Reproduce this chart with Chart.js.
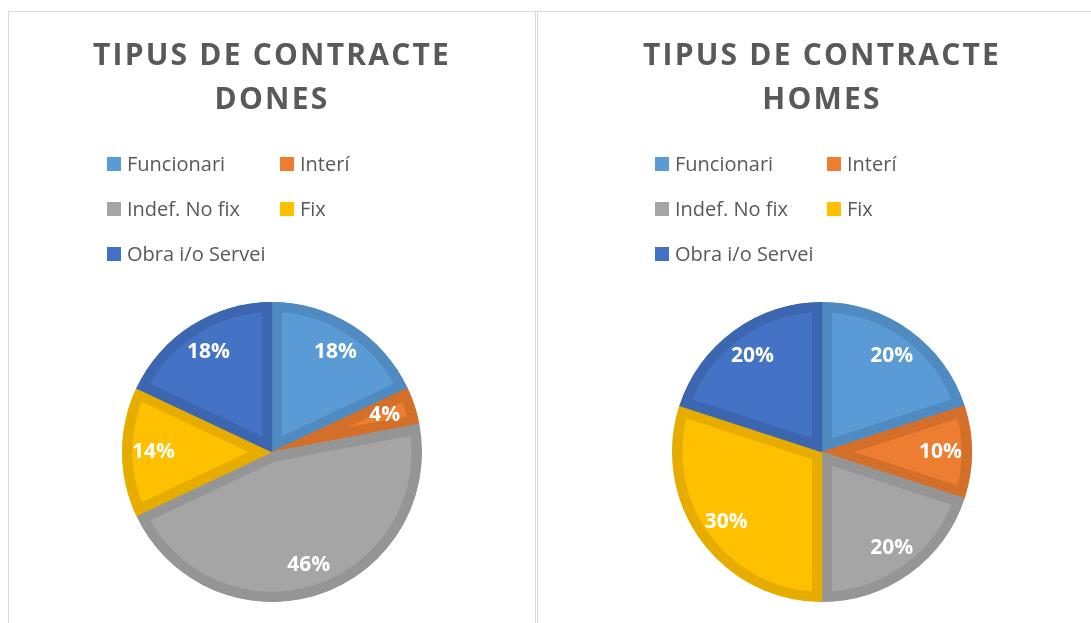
<!DOCTYPE html>
<html>
<head>
<meta charset="utf-8">
<script src="https://cdn.jsdelivr.net/npm/chart.js@4"></script>
<style>
  html, body { margin: 0; padding: 0; background: #fff; overflow: hidden; }
  body { width: 1091px; height: 623px; position: relative; }
  .panel { position: absolute; top: 11px; height: 650px; border: 1px solid #d9d9d9; box-sizing: border-box; }
  #p1 { left: 8px; width: 528px; }
  #p2 { left: 537px; width: 600px; }
  canvas { position: absolute; }
</style>
</head>
<body>
<div class="panel" id="p1"></div>
<div class="panel" id="p2"></div>
<canvas id="dones" width="526" height="611" style="left:9px;top:12px"></canvas>
<canvas id="homes" width="568" height="611" style="left:538px;top:12px"></canvas>
<script>
  const labels = ['Funcionari', 'Interí', 'Indef. No fix', 'Fix', 'Obra i/o Servei'];
  const dones = [18, 4, 46, 14, 18];
  const homes = [20, 10, 20, 30, 20];

  const fills = ['#5b9bd5', '#ed7d31', '#a5a5a5', '#ffc000', '#4472c4'];
  const borders = ['#4f8bc1', '#d46f2a', '#959595', '#e6ad00', '#3d66b1'];

  // percentages inside the slices
  const sliceLabels = {
    id: 'sliceLabels',
    afterDatasetsDraw(chart) {
      const ctx = chart.ctx;
      const ds = chart.data.datasets[0];
      ctx.save();
      ctx.letterSpacing = '0px';
      ctx.font = 'bold 21px "Open Sans"';
      ctx.fillStyle = '#fff';
      ctx.textAlign = 'center';
      ctx.textBaseline = 'middle';
      chart.getDatasetMeta(0).data.forEach((arc, i) => {
        const p = arc.getProps(['x', 'y', 'startAngle', 'endAngle', 'outerRadius']);
        const mid = (p.startAngle + p.endAngle) / 2;
        const r = p.outerRadius * 0.79;
        ctx.fillText(ds.data[i] + '%', p.x + Math.cos(mid) * r, p.y + Math.sin(mid) * r);
      });
      ctx.restore();
    }
  };

  // two-column legend like Excel's
  const gridLegend = {
    id: 'gridLegend',
    beforeDraw(chart) { chart.ctx.letterSpacing = '2.2px'; },
    beforeDatasetsDraw(chart) { chart.ctx.letterSpacing = '0px'; },
    afterDraw(chart, args, opts) {
      const ctx = chart.ctx;
      ctx.save();
      ctx.letterSpacing = '0px';
      ctx.font = '20px "Open Sans"';
      ctx.textBaseline = 'middle';
      ctx.textAlign = 'left';
      chart.data.labels.forEach((lab, i) => {
        const x = opts.cols[i % 2];
        const y = opts.rows[Math.floor(i / 2)];
        ctx.fillStyle = fills[i];
        ctx.fillRect(x, y - 7, 14, 14);
        ctx.fillStyle = '#595959';
        ctx.fillText(lab, x + 20, y + 1);
      });
      ctx.restore();
    }
  };

  function makePie(id, title, values, cols) {
    return new Chart(document.getElementById(id), {
      type: 'pie',
      data: {
        labels: labels,
        datasets: [{
          data: values,
          backgroundColor: fills,
          borderColor: borders,
          borderWidth: 10,
          borderAlign: 'inner',
          borderJoinStyle: 'miter'
        }]
      },
      options: {
        responsive: false,
        animation: false,
        devicePixelRatio: 1,
        radius: 150,
        layout: { padding: { bottom: 21 } },
        plugins: {
          legend: { display: false },
          tooltip: { enabled: false },
          title: {
            display: true,
            text: title,
            color: '#595959',
            font: { family: 'Open Sans', size: 30, weight: 'bold', lineHeight: '43.5px' },
            padding: { top: 23, bottom: 180 }
          },
          gridLegend: { cols: cols, rows: [152, 197, 242] }
        }
      },
      plugins: [sliceLabels, gridLegend]
    });
  }

  makePie('dones', ['TIPUS DE CONTRACTE', 'DONES'], dones, [98, 271]);
  makePie('homes', ['TIPUS DE CONTRACTE', 'HOMES'], homes, [117, 289]);
</script>
</body>
</html>
